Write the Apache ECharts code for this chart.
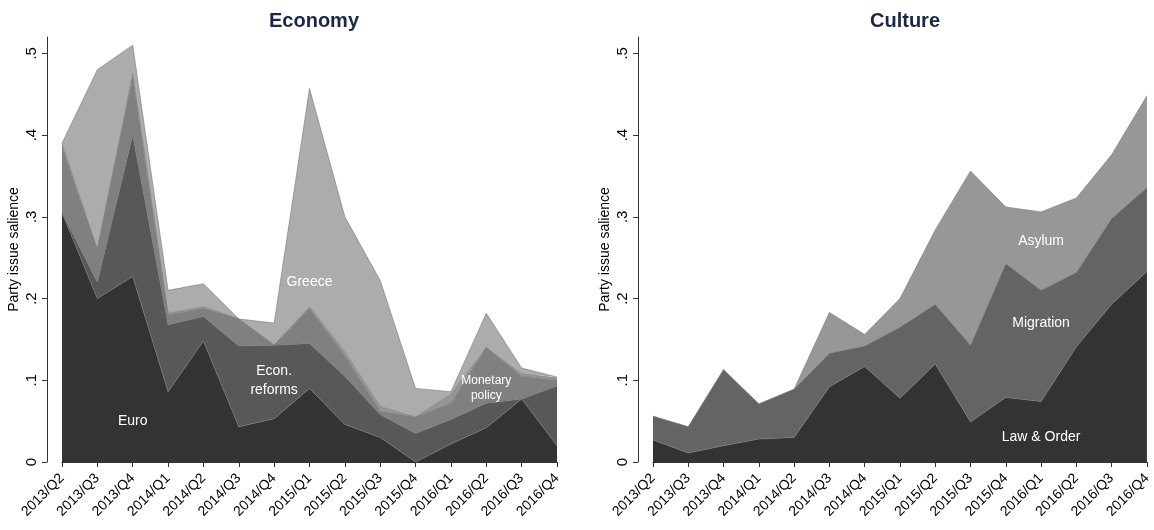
<!DOCTYPE html>
<html><head><meta charset="utf-8">
<script src="https://cdn.jsdelivr.net/npm/echarts@6/dist/echarts.min.js"></script>
<style>html,body{margin:0;background:#fff}#main{width:1154px;height:530px}</style>
</head><body><div id="main"></div>
<script>
var quarters = ['2013/Q2','2013/Q3','2013/Q4','2014/Q1','2014/Q2','2014/Q3','2014/Q4','2015/Q1','2015/Q2','2015/Q3','2015/Q4','2016/Q1','2016/Q2','2016/Q3','2016/Q4'];
// economy layers (stacked increments)
var euro     = [.305,.2,.227,.086,.148,.043,.053,.09,.046,.03,0,.022,.042,.077,.02];
var reforms  = [0,.02,.173,.082,.03,.099,.09,.055,.059,.028,.035,.03,.03,0,.073];
var monetary = [.08,.04,.07,.012,.01,.033,0,.043,.025,.004,.02,.02,.068,.028,.007];
var otherEco = [.005,0,.005,.002,.002,0,0,.002,.005,.006,0,.011,0,.003,.003];
var greece   = [0,.22,.035,.028,.028,0,.027,.267,.165,.154,.035,.003,.042,.007,.001];
// culture layers
var lawOrder  = [.027,.011,.02,.028,.03,.092,.117,.078,.12,.049,.079,.074,.141,.193,.233];
var migration = [.029,.032,.093,.043,.059,.041,.025,.087,.073,.094,.164,.136,.091,.105,.103];
var asylum    = [0,0,0,0,0,.05,.014,.035,.091,.213,.069,.096,.091,.078,.112];
var yTicks = [0,.1,.2,.3,.4,.5];

var myChart = echarts.init(document.getElementById('main'));
var font = 'Liberation Sans';

function xAx(i){
  return {type:'category', gridIndex:i, data:quarters, boundaryGap:false, offset:6,
    axisLine:{lineStyle:{color:'#333'}}, axisTick:{length:5,lineStyle:{color:'#333'}},
    axisLabel:{rotate:45, color:'#000', fontSize:14, fontFamily:font, margin:8}};
}
function yAx(i){
  return {type:'value', gridIndex:i, min:0, max:.52, interval:.1, offset:15,
    splitLine:{show:false}, axisLine:{show:true,lineStyle:{color:'#333'}},
    axisTick:{show:true,length:5,lineStyle:{color:'#333'}},
    name:'Party issue salience', nameLocation:'middle', nameGap:26,
    nameTextStyle:{color:'#000',fontSize:14,fontFamily:font},
    axisLabel:{rotate:90, color:'#000', fontSize:15, fontFamily:font, showMaxLabel:false,
      formatter:function(v){ var t=yTicks.filter(function(k){return Math.abs(k-v)<1e-6;}); if(!t.length) return ''; return v===0?'0':String(+v.toFixed(1)).replace(/^0/,''); }}};
}
function layer(name, data, color, axis, lab){
  var s = {name:name, type:'line', stack:'s'+axis, data:data, xAxisIndex:axis, yAxisIndex:axis,
    symbol:'none', lineStyle:{width:0.6,color:'#777'}, areaStyle:{color:color,opacity:1}};
  if(lab){
    s.markPoint = {symbol:'circle', symbolSize:0, data:[{coord:lab.c, value:lab.t}],
      label:{show:true, formatter:lab.t, color:'#fff', fontSize:lab.fs||14, fontFamily:font, lineHeight:lab.lh||17}};
  }
  return s;
}
var option = {
  animation:false,
  title:[
    {text:'Economy', left:309, top:6, textAlign:'center', textStyle:{color:'#1a2747',fontSize:20,fontWeight:'bold',fontFamily:font}},
    {text:'Culture', left:900, top:6, textAlign:'center', textStyle:{color:'#1a2747',fontSize:20,fontWeight:'bold',fontFamily:font}}
  ],
  grid:[{left:62, width:495, top:37, height:425},{left:653, width:494, top:37, height:425}],
  xAxis:[xAx(0), xAx(1)],
  yAxis:[yAx(0), yAx(1)],
  series:[
    layer('Euro', euro, '#333333', 0, {c:['2013/Q4',.05], t:'Euro'}),
    layer('Econ. reforms', reforms, '#585858', 0, {c:['2014/Q4',.1], t:'Econ.\nreforms', lh:19}),
    layer('Monetary policy', monetary, '#808080', 0, {c:['2016/Q2',.09], t:'Monetary\npolicy', fs:12, lh:15}),
    layer('Other', otherEco, '#959595', 0),
    layer('Greece', greece, '#acacac', 0, {c:['2015/Q1',.22], t:'Greece'}),
    layer('Law & Order', lawOrder, '#333333', 1, {c:['2016/Q1',.03], t:'Law & Order'}),
    layer('Migration', migration, '#646464', 1, {c:['2016/Q1',.17], t:'Migration'}),
    layer('Asylum', asylum, '#979797', 1, {c:['2016/Q1',.27], t:'Asylum'})
  ]
};
myChart.setOption(option);
</script></body></html>
